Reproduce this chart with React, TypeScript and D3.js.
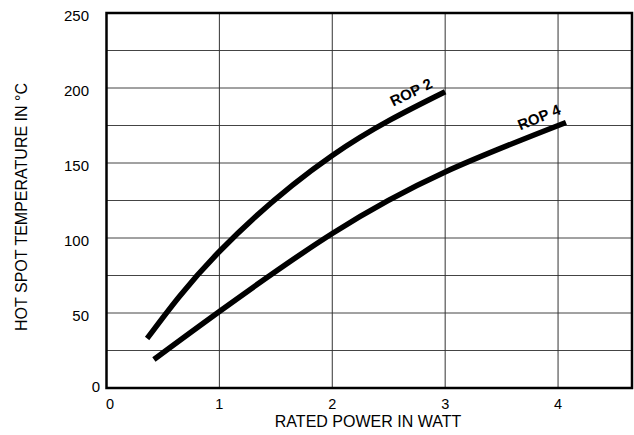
import React from "react";
import * as d3 from "d3";

const rop2X = [0.36, 1.0, 2.0, 3.0];
const rop2Y = [33, 91, 155, 197.5];
const rop4X = [0.42, 1.0, 2.0, 3.0, 4.07];
const rop4Y = [19, 51, 103, 144, 177];
const xTicks = [0, 1, 2, 3, 4];
const yTicks = [0, 50, 100, 150, 200, 250];
const yGrid = [25, 50, 75, 100, 125, 150, 175, 200, 225];

const W = 634, H = 435;
const left = 106.5, right = 632, top = 13, bottom = 388;

export default function App() {
  const x = d3.scaleLinear().domain([0, 4.655]).range([left, right]);
  const y = d3.scaleLinear().domain([0, 250]).range([bottom, top]);
  const line = d3
    .line<[number, number]>()
    .x((d) => x(d[0]))
    .y((d) => y(d[1]))
    .curve(d3.curveNatural);
  const p2 = rop2X.map((v, i) => [v, rop2Y[i]] as [number, number]);
  const p4 = rop4X.map((v, i) => [v, rop4Y[i]] as [number, number]);
  const font = "'Liberation Sans', Arial, Helvetica, sans-serif";
  return (
    <svg
      width={W}
      height={H}
      style={{ position: "absolute", left: 0, top: 0, background: "#fff" }}
      fontFamily={font}
    >
      <rect width={W} height={H} fill="#fff" />
      {yGrid.map((g) => (
        <line key={"h" + g} x1={left} x2={right} y1={y(g)} y2={y(g)} stroke="#444" strokeWidth={1} />
      ))}
      {xTicks.slice(1).map((t) => (
        <line key={"v" + t} x1={x(t)} x2={x(t)} y1={top} y2={bottom} stroke="#333" strokeWidth={1} />
      ))}
      <rect x={left} y={top} width={right - left} height={bottom - top} fill="none" stroke="#000" strokeWidth={2.5} />
      <path d={line(p2) || ""} fill="none" stroke="#000" strokeWidth={5.5} />
      <path d={line(p4) || ""} fill="none" stroke="#000" strokeWidth={5.5} />
      <text
        transform={`translate(411,92) rotate(-26)`}
        textAnchor="middle"
        dominantBaseline="central"
        fontSize={15}
        fontWeight="bold"
      >
        ROP 2
      </text>
      <text
        transform={`translate(539,117) rotate(-22)`}
        textAnchor="middle"
        dominantBaseline="central"
        fontSize={15}
        fontWeight="bold"
      >
        ROP 4
      </text>
      {xTicks.map((t) => (
        <text key={"xt" + t} x={x(t) + (t === 0 ? 3.5 : 0)} y={408.5} textAnchor="middle" fontSize={14.5}>
          {t}
        </text>
      ))}
      {yTicks.map((t) => (
        <text
          key={"yt" + t}
          x={t === 0 ? 100 : 89}
          y={t === 0 ? y(t) - 2 : y(t) + 2}
          textAnchor="end"
          dominantBaseline="central"
          fontSize={15}
        >
          {t}
        </text>
      ))}
      <text x={368} y={426.5} textAnchor="middle" fontSize={16}>
        RATED POWER IN WATT
      </text>
      <text transform="translate(27,207) rotate(-90)" textAnchor="middle" fontSize={16}>
        HOT SPOT TEMPERATURE IN °C
      </text>
    </svg>
  );
}
